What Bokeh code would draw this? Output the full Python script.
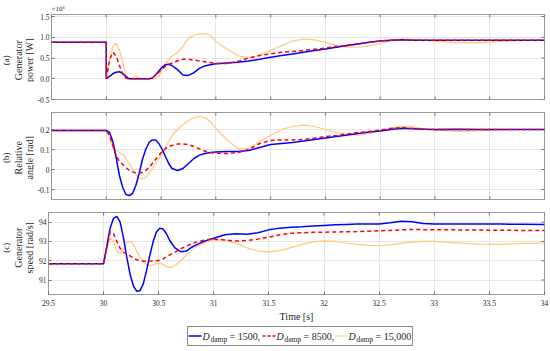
import math
from bokeh.plotting import figure
from bokeh.layouts import column, row
from bokeh.models import FixedTicker, Range1d, Title
from bokeh.core.properties import value
from bokeh.embed import file_html
from bokeh.resources import INLINE

# ---------------- data ----------------
time_s = [29.5, 30.0, 30.03, 30.06, 30.09, 30.12, 30.15, 30.18, 30.21, 30.24,
          30.27, 30.30, 30.33, 30.36, 30.39, 30.42, 30.45, 30.48, 30.51, 30.54,
          30.57, 30.60, 30.65, 30.70, 30.75, 30.80, 30.85, 30.90, 30.95, 31.0,
          31.1, 31.2, 31.3, 31.4, 31.5, 31.6, 31.7, 31.8, 31.9, 32.0,
          32.1, 32.2, 32.3, 32.4, 32.5, 32.6, 32.7, 32.8, 32.9, 33.0,
          33.2, 33.4, 33.6, 33.8, 34.0]
# power has a step at t = 30 s (30.0 appears twice)
time_power = [29.5, 30.0] + time_s[1:]

# Generator power [x1e6 W]
power_1500 = [0.88, 0.88, 0.0,
              0.06, 0.12, 0.16, 0.17, 0.13, 0.05, 0.0, 0.0, 0.0, 0.0,
              0.0, 0.0, 0.0, 0.02, 0.09, 0.19, 0.28, 0.34, 0.35, 0.32,
              0.22, 0.09, 0.08, 0.15, 0.25, 0.31, 0.34, 0.36,
              0.38, 0.40, 0.43, 0.47, 0.52, 0.56, 0.60, 0.64, 0.68, 0.72,
              0.76, 0.80, 0.84, 0.88, 0.91, 0.93, 0.94, 0.93, 0.93, 0.93,
              0.93, 0.93, 0.93, 0.93, 0.93]
power_8500 = [0.88, 0.88, 0.0,
              0.45, 0.64, 0.55, 0.32, 0.12, 0.01, 0.0, 0.0, 0.0, 0.0,
              0.0, 0.0, 0.0, 0.02, 0.08, 0.16, 0.24, 0.30, 0.34, 0.38,
              0.43, 0.47, 0.47, 0.45, 0.43, 0.41, 0.39, 0.37,
              0.37, 0.42, 0.50, 0.56, 0.60, 0.64, 0.66, 0.68, 0.71, 0.74,
              0.78, 0.81, 0.85, 0.88, 0.91, 0.93, 0.94, 0.93, 0.93, 0.93,
              0.93, 0.93, 0.93, 0.93, 0.93]
power_15000 = [0.88, 0.88, 0.0,
               0.45, 0.78, 0.86, 0.70, 0.40, 0.08, 0.0, 0.03, 0.06, 0.03,
               0.0, 0.0, 0.0, 0.0, 0.0, 0.06, 0.22, 0.36, 0.47, 0.55,
               0.62, 0.78, 0.98, 1.05, 1.08, 1.09, 1.05, 0.90,
               0.72, 0.56, 0.50, 0.57, 0.68, 0.80, 0.91, 0.96, 0.94, 0.88,
               0.80, 0.77, 0.76, 0.79, 0.85, 0.92, 0.96, 0.95, 0.93, 0.91,
               0.87, 0.87, 0.90, 0.92, 0.93]

# Relative angle [rad]
angle_1500 = [0.195, 0.195, 0.185, 0.14, 0.06, -0.03, -0.09, -0.125, -0.13, -0.12,
              -0.08, -0.02, 0.05, 0.10, 0.135, 0.148, 0.148, 0.13, 0.10, 0.065,
              0.03, 0.005, -0.005, 0.005, 0.03, 0.055, 0.072, 0.08, 0.085, 0.088,
              0.09, 0.09, 0.095, 0.11, 0.125, 0.13, 0.135, 0.142, 0.15, 0.158,
              0.165, 0.172, 0.18, 0.187, 0.193, 0.20, 0.206, 0.204, 0.201, 0.20,
              0.201, 0.20, 0.20, 0.20, 0.20]
angle_8500 = [0.195, 0.195, 0.17, 0.12, 0.07, 0.04, 0.025, 0.01, -0.005, -0.012,
              -0.017, -0.018, -0.015, -0.005, 0.01, 0.03, 0.05, 0.07, 0.09, 0.105,
              0.115, 0.12, 0.127, 0.128, 0.125, 0.115, 0.103, 0.092, 0.085, 0.082,
              0.08, 0.085, 0.10, 0.13, 0.145, 0.148, 0.148, 0.15, 0.157, 0.165,
              0.17, 0.178, 0.185, 0.19, 0.197, 0.205, 0.21, 0.205, 0.202, 0.20,
              0.20, 0.20, 0.20, 0.20, 0.20]
angle_15000 = [0.195, 0.195, 0.16, 0.11, 0.095, 0.085, 0.075, 0.055, 0.03, 0.0,
               -0.025, -0.042, -0.047, -0.04, -0.02, 0.005, 0.03, 0.055, 0.08, 0.11,
               0.14, 0.17, 0.20, 0.225, 0.245, 0.26, 0.265, 0.26, 0.24, 0.205,
               0.15, 0.105, 0.105, 0.14, 0.17, 0.20, 0.215, 0.222, 0.215, 0.20,
               0.185, 0.175, 0.172, 0.18, 0.195, 0.208, 0.215, 0.213, 0.205, 0.197,
               0.19, 0.194, 0.20, 0.20, 0.20]

# Generator speed [rad/s]
speed_1500 = [91.85, 91.85, 92.8, 93.7, 94.2, 94.3, 94.0, 93.2, 92.2, 91.3,
              90.7, 90.42, 90.45, 90.8, 91.5, 92.3, 93.0, 93.5, 93.68, 93.65,
              93.4, 93.05, 92.65, 92.47, 92.5, 92.7, 92.85, 92.98, 93.08, 93.17,
              93.35, 93.4, 93.37, 93.45, 93.6, 93.69, 93.73, 93.76, 93.8, 93.83,
              93.86, 93.88, 93.9, 93.9, 93.9, 93.97, 94.05, 94.02, 93.93, 93.9,
              93.9, 93.9, 93.9, 93.89, 93.88]
speed_8500 = [91.85, 91.85, 92.7, 93.5, 93.4, 93.0, 92.65, 92.45, 92.35, 92.25,
              92.15, 92.05, 92.0, 91.97, 91.97, 91.98, 92.0, 92.0, 92.02, 92.1,
              92.2, 92.3, 92.45, 92.62, 92.75, 92.88, 92.98, 93.05, 93.1, 93.12,
              93.08, 93.02, 93.05, 93.12, 93.22, 93.35, 93.42, 93.45, 93.47, 93.48,
              93.49, 93.5, 93.51, 93.53, 93.55, 93.57, 93.6, 93.62, 93.61, 93.6,
              93.6, 93.59, 93.58, 93.57, 93.57]
speed_15000 = [91.85, 91.85, 92.6, 93.2, 93.0, 92.45, 92.35, 92.6, 92.95, 93.02,
               92.85, 92.5, 92.2, 91.95, 91.8, 91.75, 91.8, 91.87, 91.88, 91.8,
               91.68, 91.64, 91.75, 92.0, 92.3, 92.55, 92.75, 92.9, 93.02, 93.07,
               93.08, 92.9, 92.67, 92.5, 92.46, 92.52, 92.68, 92.85, 92.98, 93.03,
               93.0, 92.92, 92.85, 92.8, 92.79, 92.82, 92.9, 92.96, 93.0, 93.0,
               92.93, 92.86, 92.85, 92.9, 92.92]

x_ticks = [29.5, 30.0, 30.5, 31.0, 31.5, 32.0, 32.5, 33.0, 33.5, 34.0]
x_tick_labels = ["29.5", "30", "30.5", "31", "31.5", "32", "32.5", "33", "33.5", "34"]
power_ticks = [-0.5, 0.0, 0.5, 1.0, 1.5]
power_tick_labels = ["-0.5", "0.0", "0.5", "1.0", "1.5"]
angle_ticks = [-0.1, 0.0, 0.1, 0.2]
angle_tick_labels = ["-0.1", "0", "0.1", "0.2"]
speed_ticks = [91, 92, 93, 94]
speed_tick_labels = ["91", "92", "93", "94"]
damp_labels = ["= 1500,", "= 8500,", "= 15,000"]

# ---------------- styling ----------------
FONT = "Liberation Serif"
TOTAL_W = 550
LW = 34                 # width of the strip holding the rotated y labels
PW = TOTAL_W - LW       # panel width
FL, FR = 14, 6
C_BLUE, C_RED, C_ORANGE = "#0000ff", "#ff0000", "#ffc878"
TXT = "#262626"
GRID = "#e6e6e6"
EDGE = "#9a9a9a"
TICK = "#707070"


def style_axis(ax, ticks, labels, standoff):
    ax.ticker = FixedTicker(ticks=ticks)
    ax.major_label_overrides = {t: l for t, l in zip(ticks, labels)}
    ax.axis_line_color = None
    ax.major_tick_in = 3
    ax.major_tick_out = 0
    ax.minor_tick_line_color = None
    ax.major_tick_line_color = TICK
    ax.major_label_text_font = FONT
    ax.major_label_text_color = TXT
    ax.major_label_text_font_size = "7.5px"
    ax.major_label_standoff = standoff


def make_panel(height, top, bottom, yr, yticks, ylabels, tvals, series, show_x):
    p = figure(width=PW, height=height, x_range=Range1d(29.5, 34.0),
               y_range=Range1d(*yr), output_backend="svg", toolbar_location=None,
               min_border_left=FL, min_border_right=FR, min_border_top=top,
               min_border_bottom=bottom)
    p.outline_line_color = EDGE
    p.outline_line_width = 1
    yax = p.yaxis[0]
    style_axis(yax, yticks, ylabels, 2)
    xax = p.xaxis[0]
    if show_x:
        style_axis(xax, x_ticks, x_tick_labels, 5)
        xax.axis_label = "Time [s]"
        xax.axis_label_text_font = FONT
        xax.axis_label_text_font_style = "normal"
        xax.axis_label_text_font_size = "10px"
        xax.axis_label_text_color = TXT
        xax.axis_label_standoff = 2
    else:
        xax.visible = False
    p.xgrid.ticker = FixedTicker(ticks=x_ticks)
    p.ygrid.ticker = FixedTicker(ticks=yticks)
    p.grid.grid_line_color = GRID
    p.grid.grid_line_width = 1

    # inward box ticks on the edges without an axis (half of each dash is clipped)
    p.scatter(x_ticks, [yr[1]] * len(x_ticks), marker="dash", size=6, angle=math.pi / 2,
              line_color=TICK, line_width=1)
    if not show_x:
        p.scatter(x_ticks, [yr[0]] * len(x_ticks), marker="dash", size=6,
                  angle=math.pi / 2, line_color=TICK, line_width=1)
    p.scatter([34.0] * len(yticks), yticks, marker="dash", size=6,
              line_color=TICK, line_width=1)

    t_o, t_b, t_r = tvals
    s_b, s_r, s_o = series
    p.line(t_o, s_o, line_color=C_ORANGE, line_width=1.2)
    p.line(t_b, s_b, line_color=C_BLUE, line_width=1.5)
    p.line(t_r, s_r, line_color=C_RED, line_width=1.5, line_dash="4 3")
    return p


def make_label_strip(height, top, bottom, lines, tag):
    s = figure(width=LW, height=height, x_range=Range1d(0, LW), y_range=Range1d(0, height),
               output_backend="svg", toolbar_location=None, min_border=0,
               x_axis_location=None, y_axis_location=None)
    s.grid.visible = False
    s.outline_line_color = None
    ymid = bottom + (height - top - bottom) / 2.0
    s.text(x=[5.5], y=[ymid], text=[tag], angle=math.pi / 2, text_align="center",
           text_baseline="middle", text_font=value(FONT), text_font_size=value("9px"),
           text_color=TXT)
    s.text(x=[17.5, 29.0], y=[ymid, ymid], text=lines, angle=math.pi / 2,
           text_align="center", text_baseline="middle", text_font=value(FONT),
           text_font_size=value("10px"), text_color=TXT)
    return s


# panel geometry: (height, top border, bottom border)
GA, GB, GC = (104, 13, 5), (99, 8, 4), (121, 9, 26)

pa = make_panel(GA[0], GA[1], GA[2], (-0.5, 1.55), power_ticks, power_tick_labels,
                (time_power, time_power, time_power),
                (power_1500, power_8500, power_15000), False)
pa.add_layout(Title(text="\u00d710\u2076", align="left", text_font=FONT,
                    text_font_size="7px", text_font_style="normal",
                    text_color=TXT, standoff=4, offset=0), "above")

pb = make_panel(GB[0], GB[1], GB[2], (-0.15, 0.285), angle_ticks, angle_tick_labels,
                (time_s, time_s, time_s),
                (angle_1500, angle_8500, angle_15000), False)

pc = make_panel(GC[0], GC[1], GC[2], (90.25, 94.5), speed_ticks, speed_tick_labels,
                (time_s, time_s, time_s),
                (speed_1500, speed_8500, speed_15000), True)

la = make_label_strip(GA[0], GA[1], GA[2], ["Generator", "power [W]"], "(a)")
lb = make_label_strip(GB[0], GB[1], GB[2], ["Relative", "angle [rad]"], "(b)")
lc = make_label_strip(GC[0], GC[1], GC[2], ["Generator", "speed [rad/s]"], "(c)")

# ---------------- legend (drawn as its own strip) ----------------
LH = 24
leg = figure(width=TOTAL_W, height=LH, x_range=Range1d(0, TOTAL_W), y_range=Range1d(0, LH),
             output_backend="svg", toolbar_location=None, min_border=0,
             x_axis_location=None, y_axis_location=None)
leg.grid.visible = False
leg.outline_line_color = None
leg.quad(left=[187], right=[412], bottom=[3], top=[22], fill_color="white",
         line_color="#8a8a8a", line_width=1)
starts = [188, 262, 334]
styles = [(C_BLUE, None, 1.5), (C_RED, "3 2", 1.5), (C_ORANGE, None, 1.2)]
YC = 12.5
for x0, (col, dash, lw), lab in zip(starts, styles, damp_labels):
    kw = dict(line_color=col, line_width=lw)
    if dash:
        kw["line_dash"] = dash
    leg.line([x0, x0 + 13], [YC, YC], **kw)
    leg.text(x=[x0 + 14], y=[YC], text=["D"], text_font=value(FONT),
             text_font_style="italic", text_font_size=value("10px"),
             text_baseline="middle", text_align="left", text_color=TXT)
    leg.text(x=[x0 + 22], y=[YC - 3], text=["damp"], text_font=value(FONT),
             text_font_size=value("7.5px"), text_baseline="middle",
             text_align="left", text_color=TXT)
    leg.text(x=[x0 + 41], y=[YC], text=[lab], text_font=value(FONT),
             text_font_size=value("10px"), text_baseline="middle",
             text_align="left", text_color=TXT)

layout = column(row(la, pa, spacing=0), row(lb, pb, spacing=0), row(lc, pc, spacing=0),
                leg, spacing=0)
open("out.html", "w").write(file_html(layout, INLINE))
